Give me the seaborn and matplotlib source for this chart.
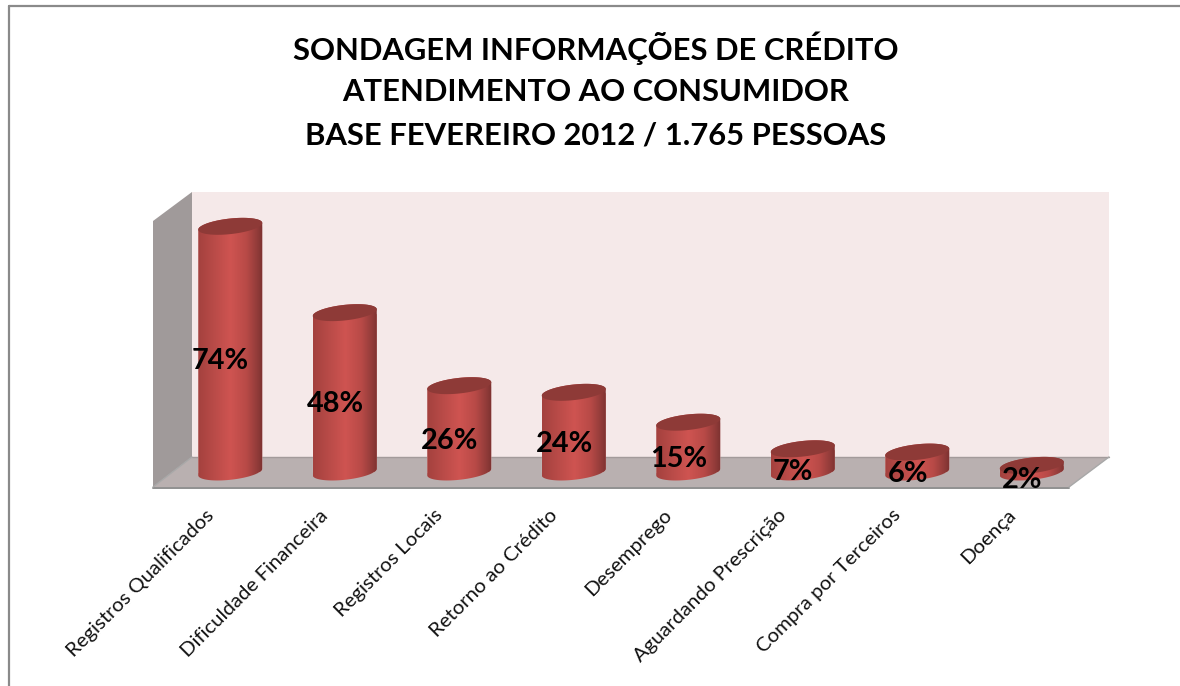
import numpy as np
import pandas as pd
import matplotlib
matplotlib.use('Agg')
import matplotlib.pyplot as plt
import seaborn as sns
from matplotlib.colors import LinearSegmentedColormap
from matplotlib.patches import Polygon
from matplotlib.path import Path
from matplotlib.lines import Line2D
from matplotlib.transforms import ScaledTranslation

categorias = ['Registros Qualificados', 'Dificuldade Financeira', 'Registros Locais',
              'Retorno ao Crédito', 'Desemprego', 'Aguardando Prescrição',
              'Compra por Terceiros', 'Doença']
valores = [74, 48, 26, 24, 15, 7, 6, 2]
titulo = ['SONDAGEM INFORMAÇÕES DE CRÉDITO', 'ATENDIMENTO AO CONSUMIDOR',
          'BASE FEVEREIRO 2012 / 1.765 PESSOAS']

sns.set_style("white")
plt.rcParams['font.family'] = ['Lato', 'DejaVu Sans']

W, H = 1180, 686
fig = plt.figure(figsize=(W / 100, H / 100), dpi=100, facecolor='white')


def px(x, y):
    return (x / W, 1 - y / H)


# parede, fundo e piso do "3D"
def poligono(pontos, cor, **kw):
    fig.add_artist(Polygon([px(*p) for p in pontos], closed=True, facecolor=cor, edgecolor='none',
                           transform=fig.transFigure, zorder=-2, **kw))


poligono([(192, 192), (1109, 192), (1109, 457), (192, 457)], '#F5E9E9')
poligono([(153, 221), (192, 192), (192, 457), (153, 487)], '#A09A9A')
poligono([(153, 487), (192, 457), (1109, 457), (1069, 487)], '#B9B0B0')


def linha(p1, p2, cor, lw):
    a, b = px(*p1), px(*p2)
    fig.add_artist(Line2D([a[0], b[0]], [a[1], b[1]], color=cor, lw=lw, transform=fig.transFigure, zorder=-1))


linha((192, 457), (1109, 457), '#A39B9B', 1.0)
linha((153, 487.5), (1069, 487.5), '#8F8F8F', 1.4)
linha((153, 487), (192, 457), '#A8A8A8', 1.0)
linha((1069, 487), (1109, 457), '#A8A8A8', 1.0)
# moldura (so em cima e a esquerda)
linha((9, 6), (1180, 6), '#8A8A8A', 1.6)
linha((9, 6), (9, 686), '#8A8A8A', 1.6)

# eixo: 0% em y=472 px, 3.32 px por ponto
ax = fig.add_axes([173 / W, 1 - 505.2 / H, 916 / W, 298.8 / H])
ax.patch.set_alpha(0)
df = pd.DataFrame({'categoria': categorias, 'valor': valores})
sns.barplot(data=df, x='categoria', y='valor', color='#B84A47', width=0.559, saturation=1, ax=ax)

gradiente = LinearSegmentedColormap.from_list('cilindro', [
    (0.0, '#A4413E'), (0.22, '#B74A47'), (0.5, '#CF5451'), (0.75, '#B84A47'),
    (0.93, '#8E3A38'), (1.0, '#7C3130')])
faixa = np.linspace(0, 1, 128).reshape(1, -1)

sx, ry = 1.0, 2.35
for barra, valor in zip(ax.patches, valores):
    x0, larg, h = barra.get_x(), barra.get_width(), barra.get_height()
    cx, rx = x0 + larg / 2, larg / 2
    t_baixo = np.linspace(np.pi, 2 * np.pi, 60)
    t_cima = np.linspace(0, np.pi, 60)
    corpo = np.r_[np.c_[cx + rx * np.cos(t_baixo), sx * np.cos(t_baixo) + ry * np.sin(t_baixo)],
                  np.c_[cx + rx * np.cos(t_cima), h + sx * np.cos(t_cima) + ry * np.sin(t_cima)]]
    caminho = Path(np.r_[corpo, corpo[:1]], closed=True)
    barra.set_clip_path(caminho, ax.transData)
    im = ax.imshow(faixa, cmap=gradiente, aspect='auto', extent=(cx - rx, cx + rx, -5, h + 5),
                   zorder=3, interpolation='bilinear')
    im.set_clip_path(caminho, ax.transData)
    t = np.linspace(0, 2 * np.pi, 120)
    ax.fill(cx + rx * np.cos(t), h + sx * np.cos(t) + ry * np.sin(t), color='#8E3A37', lw=0, zorder=4)
    ax.annotate(f'{valor}%', (cx, h / 2), xytext=(-7, -8.5), textcoords='offset points',
                ha='center', va='center', fontsize=20.8, fontweight='bold', color='black', zorder=6)

ax.set_xlim(-0.5, 7.5)
ax.set_ylim(-10, 80)
ax.set_xlabel('')
ax.set_ylabel('')
ax.set_yticks([])
sns.despine(ax=ax, left=True, bottom=True)
ax.tick_params(axis='x', length=0, pad=1)
plt.setp(ax.get_xticklabels(), rotation=45, ha='right', rotation_mode='anchor',
         fontsize=14.7, color='#111111')
desloca = ScaledTranslation(-25 / 100, 0, fig.dpi_scale_trans)
for rotulo in ax.get_xticklabels():
    rotulo.set_transform(rotulo.get_transform() + desloca)

for i, linha_titulo in enumerate(titulo):
    fig.text(596 / W, 1 - (48 + i * 44) / H, linha_titulo, ha='center', va='center',
             fontsize=22.3, fontweight='bold', color='black')

fig.savefig('out.png', dpi=100)
